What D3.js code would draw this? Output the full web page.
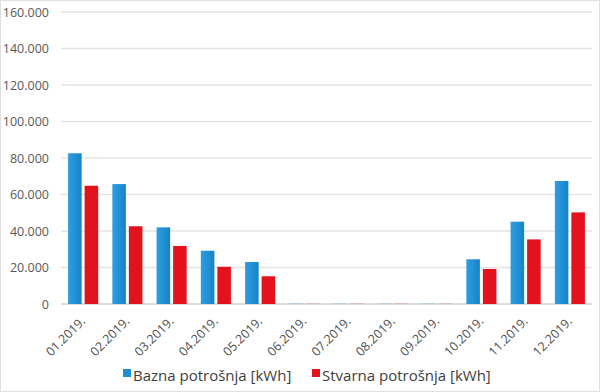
<!DOCTYPE html>
<html><head><meta charset="utf-8">
<script src="https://cdn.jsdelivr.net/npm/d3@7"></script>
<style>body{margin:0;background:#fff}svg{display:block}</style>
</head><body>
<script>
const categories = ["01.2019.","02.2019.","03.2019.","04.2019.","05.2019.","06.2019.","07.2019.","08.2019.","09.2019.","10.2019.","11.2019.","12.2019."];
const baznaValues = [82600,65700,42000,29200,23000,100,100,100,100,24500,45100,67400];
const stvarnaValues = [64800,42600,31800,20400,15200,80,80,80,80,19200,35400,50200];
const seriesNames = ["Bazna potrošnja [kWh]","Stvarna potrošnja [kWh]"];
const yTicks = [0,20000,40000,60000,80000,100000,120000,140000,160000];
const colors = ["#1c8ed3","#e3131d"];

const W=600,H=392;
const m={left:61,right:8,top:12,bottom:88};
const svg=d3.select("body").append("svg").attr("width",W).attr("height",H);
svg.append("rect").attr("x",0.5).attr("y",0.5).attr("width",W-1).attr("height",H-1).attr("fill","#fff").attr("stroke","#e0e0e0");

const defs=svg.append("defs");
const g1=defs.append("linearGradient").attr("id","gb").attr("x1",0).attr("x2",1).attr("y1",0).attr("y2",0);
g1.append("stop").attr("offset","0").attr("stop-color","#2f9ee0");
g1.append("stop").attr("offset","1").attr("stop-color","#1683c8");

const x=d3.scaleBand().domain(categories).range([m.left,W-m.right]).paddingInner(0.32).paddingOuter(0.16);
const y=d3.scaleLinear().domain([0,160000]).range([H-m.bottom,m.top]);

const fmt=v=>d3.format(",")(v).replace(/,/g,".");
svg.append("g").selectAll("line").data(yTicks).join("line")
 .attr("x1",m.left).attr("x2",W-m.right)
 .attr("y1",d=>y(d)).attr("y2",d=>y(d))
 .attr("stroke",d=>d===0?"#d0d0d0":"#e4e4e4").attr("stroke-width",1.3);

const yAxis=d3.axisLeft(y).tickValues(yTicks).tickFormat(d=>d===0?"0":fmt(d)).tickSize(0).tickPadding(0);
const ya=svg.append("g").attr("transform",`translate(${m.left-12},0)`).call(yAxis);
ya.select(".domain").remove();
ya.selectAll("text").attr("font-family","'Open Sans',sans-serif").attr("font-size",12.5).attr("fill","#595959");

const x1=d3.scaleBand().domain([0,1]).range([0,x.bandwidth()]).paddingInner(0.18);
const series=[baznaValues,stvarnaValues];
series.forEach((vals,si)=>{
  svg.append("g").selectAll("rect").data(vals).join("rect")
   .attr("x",(d,i)=>x(categories[i])+x1(si))
   .attr("width",x1.bandwidth())
   .attr("y",d=>y(d)).attr("height",d=>y(0)-y(d))
   .attr("fill",si===0?"url(#gb)":colors[1]);
});

const xAxis=d3.axisBottom(x).tickSize(0).tickPadding(0);
const xa=svg.append("g").attr("transform",`translate(0,${y(0)})`).call(xAxis);
xa.select(".domain").remove();
xa.selectAll("text").attr("font-family","'Open Sans',sans-serif").attr("font-size",12.5).attr("fill","#505050")
  .attr("text-anchor","end").attr("dy",0).attr("y",0)
  .attr("transform","translate(3,18) rotate(-45)");

const lg=svg.append("g").attr("transform","translate(0,381)");
const lx=[123,312];
seriesNames.forEach((n,i)=>{
  lg.append("rect").attr("x",lx[i]).attr("y",-12).attr("width",8).attr("height",8).attr("fill",colors[i]);
  lg.append("text").attr("x",lx[i]+10).attr("y",0).text(n)
   .attr("font-family","'Open Sans',sans-serif").attr("font-size",15).attr("fill","#404040");
});
</script>
</body></html>
